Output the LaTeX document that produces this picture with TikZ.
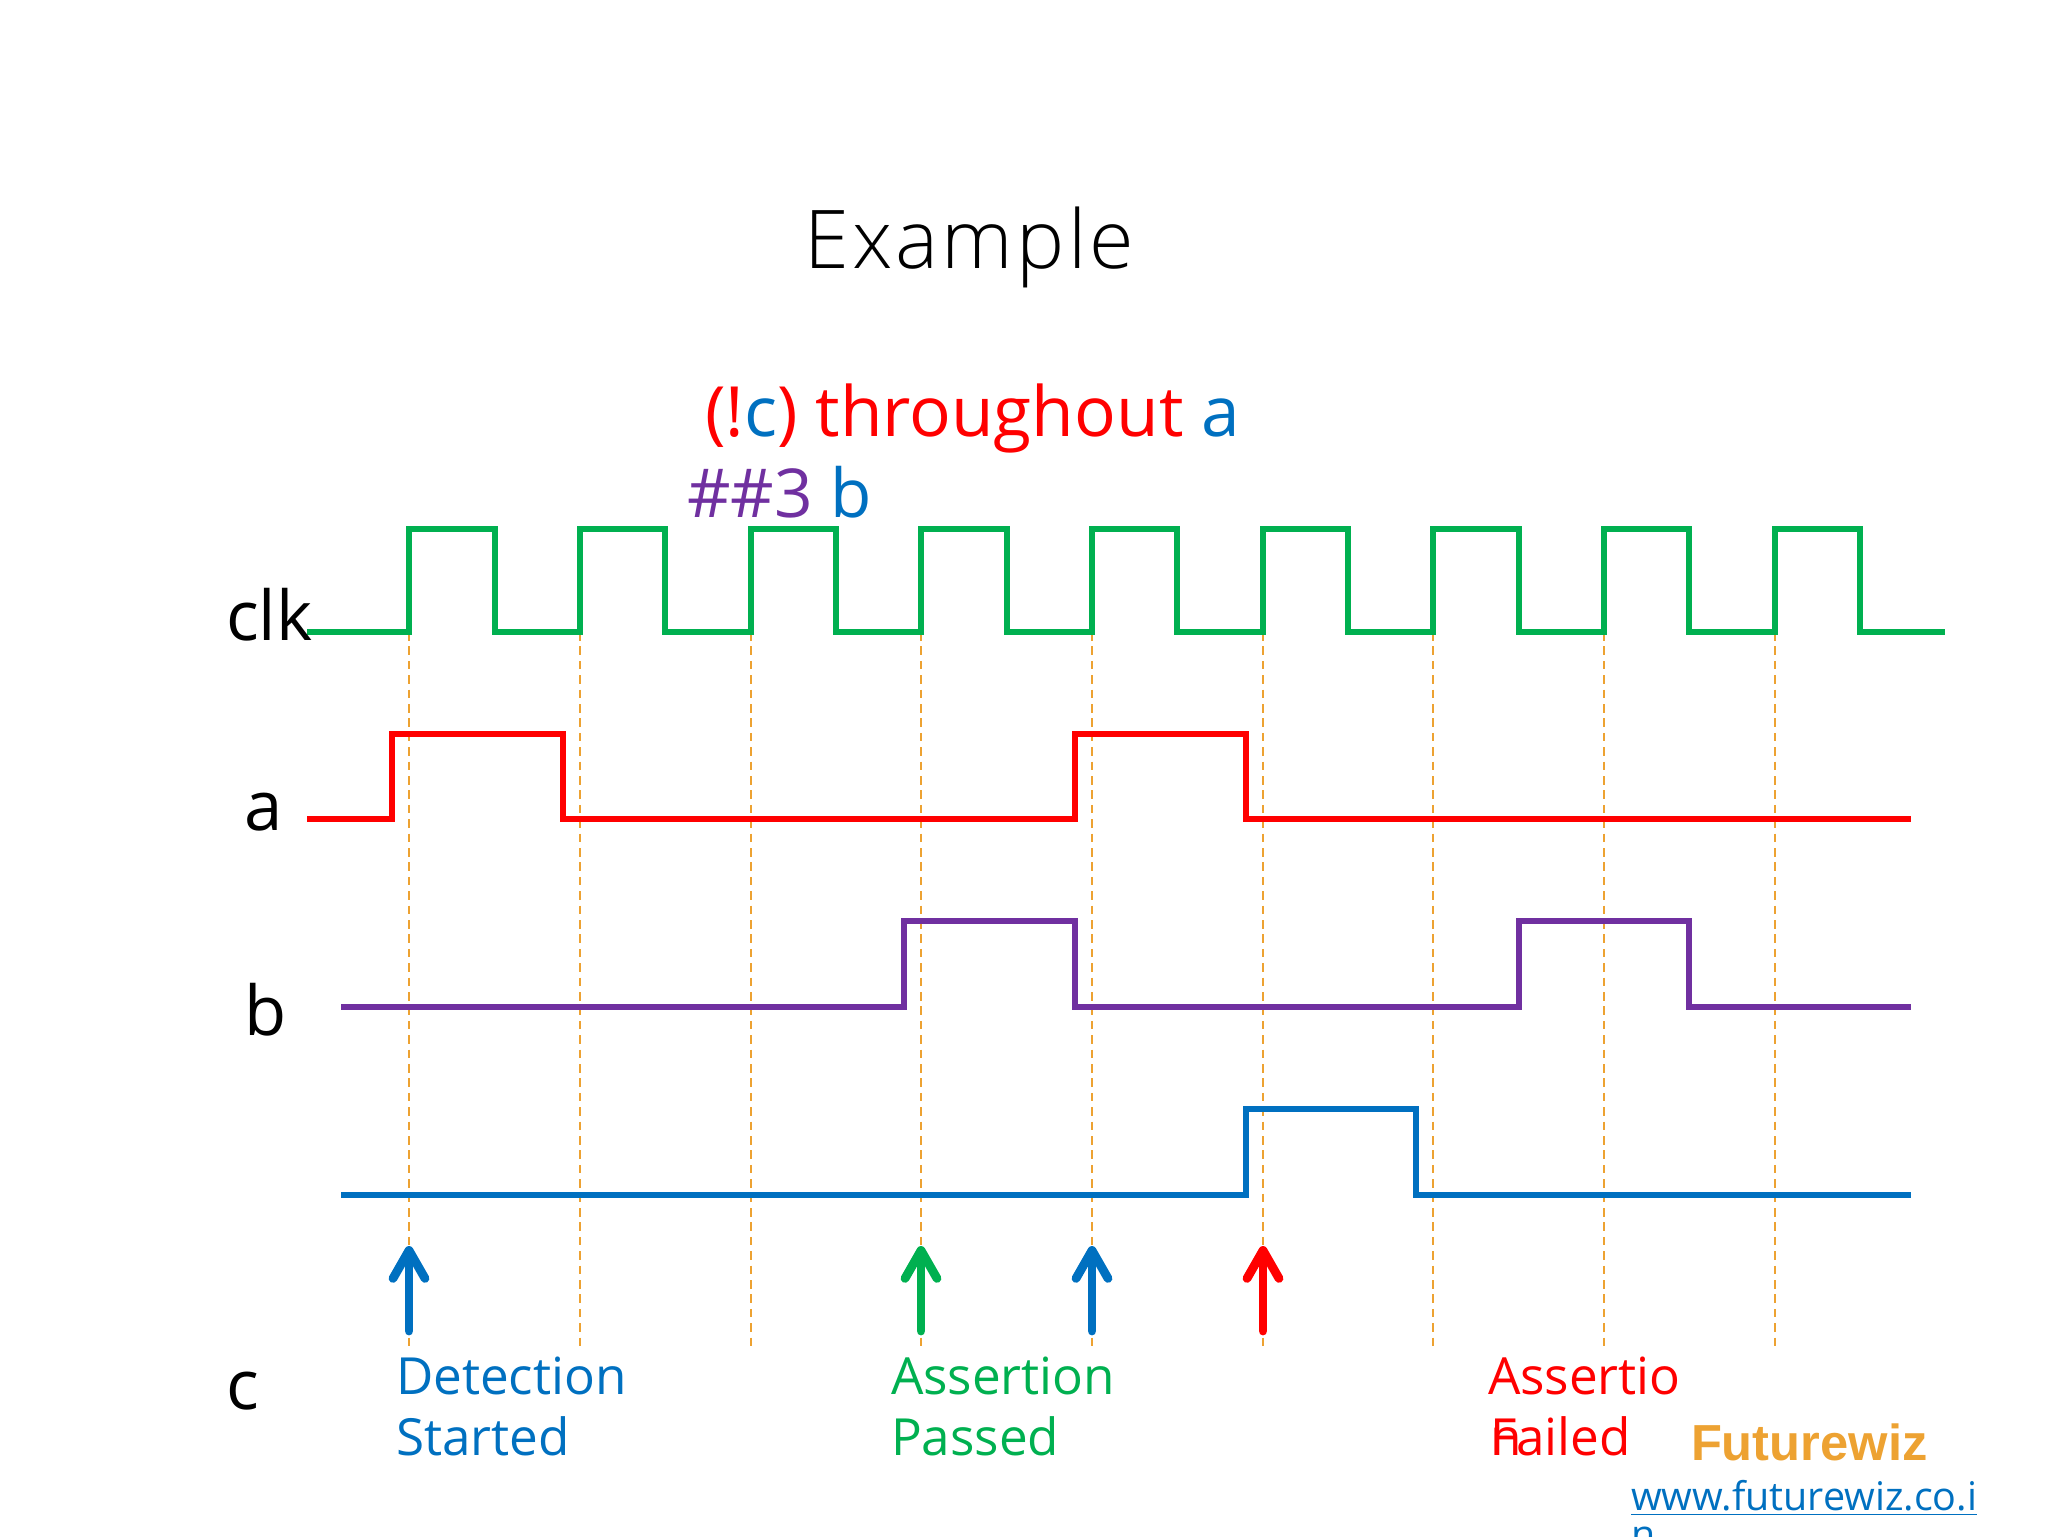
\documentclass[tikz,border=0pt]{standalone}
\usepackage{fontspec}
\setmainfont{Open Sans}
\newfontfamily\titlefont[LetterSpace=4]{Open Sans Light}
\newfontfamily\logofont{Liberation Sans}
\usetikzlibrary{arrows.meta}
\definecolor{clkgreen}{RGB}{0,176,80}
\definecolor{sigred}{RGB}{255,0,0}
\definecolor{sigpurple}{RGB}{112,48,160}
\definecolor{sigblue}{RGB}{0,112,192}
\definecolor{guideorange}{RGB}{237,162,50}
\tikzset{
  wave/.style={line width=2.1pt,line join=miter},
  guide/.style={color=guideorange,line width=0.95pt,dash pattern=on 3.2pt off 2.2pt},
  marker/.style={line width=3.3pt,line cap=round,-{Straight Barb[length=10.5pt,width=12pt,line width=3.3pt,round]}},
  lbl/.style={inner sep=0pt,outer sep=0pt,anchor=base west},
  siglbl/.style={lbl,font=\fontsize{25.8}{30}\selectfont},
  exprlbl/.style={lbl,font=\fontsize{26}{32}\selectfont},
  notelbl/.style={lbl,font=\fontsize{19.2}{24}\selectfont}
}
\begin{document}
\begin{tikzpicture}[x=0.375pt,y=0.375pt,yscale=-1,xscale=1]
    \useasboundingbox (0,0) rectangle (2048,1536);

    %Dashed guides
    \draw [guide]    (409,632) -- (409,1348) ;
    \draw [guide]    (580,632) -- (580,1348) ;
    \draw [guide]    (751,632) -- (751,1348) ;
    \draw [guide]    (921,632) -- (921,1348) ;
    \draw [guide]    (1092,632) -- (1092,1348) ;
    \draw [guide]    (1263,632) -- (1263,1348) ;
    \draw [guide]    (1433,632) -- (1433,1348) ;
    \draw [guide]    (1604,632) -- (1604,1348) ;
    \draw [guide]    (1775,632) -- (1775,1348) ;

    %Waveform clk
    \draw [wave,color=clkgreen]    (307,632) -- (409,632) -- (409,529) -- (495,529) -- (495,632) -- (580,632) -- (580,529) -- (665,529) -- (665,632) -- (751,632) -- (751,529) -- (836,529) -- (836,632) -- (921,632) -- (921,529) -- (1007,529) -- (1007,632) -- (1092,632) -- (1092,529) -- (1177,529) -- (1177,632) -- (1263,632) -- (1263,529) -- (1348,529) -- (1348,632) -- (1433,632) -- (1433,529) -- (1519,529) -- (1519,632) -- (1604,632) -- (1604,529) -- (1689,529) -- (1689,632) -- (1775,632) -- (1775,529) -- (1860,529) -- (1860,632) -- (1945,632) ;
    %Waveform a
    \draw [wave,color=sigred]    (307,819) -- (392,819) -- (392,734) -- (563,734) -- (563,819) -- (1075,819) -- (1075,734) -- (1246,734) -- (1246,819) -- (1911,819) ;
    %Waveform b
    \draw [wave,color=sigpurple]    (341,1007) -- (904,1007) -- (904,921) -- (1075,921) -- (1075,1007) -- (1519,1007) -- (1519,921) -- (1689,921) -- (1689,1007) -- (1911,1007) ;
    %Waveform c
    \draw [wave,color=sigblue]    (341,1195) -- (1246,1195) -- (1246,1109) -- (1416,1109) -- (1416,1195) -- (1911,1195) ;

    %Arrow ends
    \coordinate (detectfoot) at (409,1331);
    \coordinate (detecttip) at (409,1246);
    \coordinate (passfoot) at (921,1331);
    \coordinate (passtip) at (921,1246);
    \coordinate (restartfoot) at (1092,1331);
    \coordinate (restarttip) at (1092,1246);
    \coordinate (failfoot) at (1263,1331);
    \coordinate (failtip) at (1263,1246);
    \draw [marker,color=sigblue]    (detectfoot) -- (detecttip) ;
    \draw [marker,color=clkgreen]    (passfoot) -- (passtip) ;
    \draw [marker,color=sigblue]    (restartfoot) -- (restarttip) ;
    \draw [marker,color=sigred]    (failfoot) -- (failtip) ;

    %Title and expression
    \node [lbl,font=\titlefont\fontsize{30.4}{36}\selectfont] (title) at (804,268) {Example};
    \node [exprlbl] (exprone) at (705,436) {\textcolor{sigred}{(!}\textcolor{sigblue}{c}\textcolor{sigred}{) throughout} \textcolor{sigblue}{a}};
    \node [lbl,font=\fontsize{25.3}{32}\selectfont] (exprtwo) at (687,517) {\textcolor{sigpurple}{\#\#3} \textcolor{sigblue}{b}};

    %Signal names
    \node [siglbl] (clkname) at (226,640) {clk};
    \node [siglbl] (aname) at (244,830) {a};
    \node [siglbl] (bname) at (244,1035) {b};
    \node [siglbl] (cname) at (226,1409) {c};

    %Notes
    \node [notelbl,text=sigblue] (detectone) at (396,1394) {Detection};
    \node [notelbl,text=sigblue] (detecttwo) at (396,1455) {Started};
    \node [notelbl,text=clkgreen] (passone) at (891,1394) {Assertion};
    \node [notelbl,text=clkgreen] (passtwo) at (891,1455) {Passed};
    \node [notelbl,text=sigred] (failone) at (1488,1394) {Assertio};
    \node [notelbl,text=sigred] (failwrap) at (1490,1455) {n};
    \node [notelbl,text=sigred] (failtwo) at (1490,1455) {Failed};

    %Logo
    \node [lbl,font=\logofont\bfseries\fontsize{19}{23}\selectfont,text=guideorange] (logo) at (1691,1460) {Futurewiz};
    \node [lbl,font=\fontsize{14.8}{18}\selectfont,text=sigblue] (urlone) at (1631,1510) {\underline{www.futurewiz.co.i}};
    \node [lbl,font=\fontsize{14.8}{18}\selectfont,text=sigblue] (urltwo) at (1631,1548) {\underline{n}};
\end{tikzpicture}
\end{document}
